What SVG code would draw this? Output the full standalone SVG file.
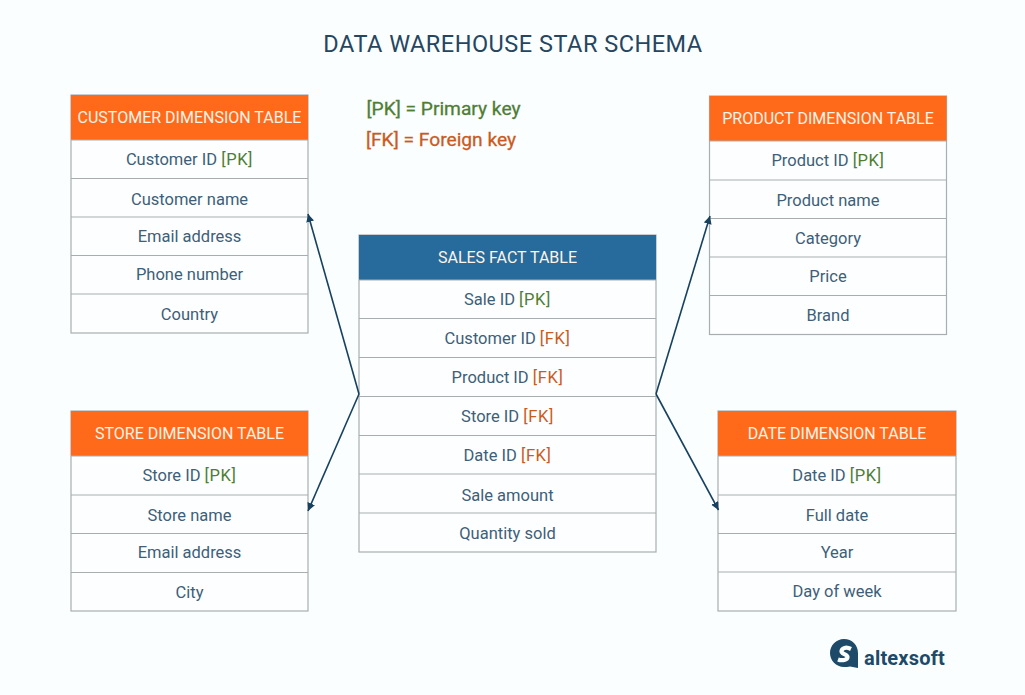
<svg xmlns="http://www.w3.org/2000/svg" width="1025" height="695" viewBox="0 0 1025 695">
<style>
text{font-family:Roboto,"Liberation Sans",sans-serif;text-anchor:middle}
.t{font-size:16.5px;fill:#3f5f78}
.h{font-size:16px;fill:#fff3e8}
.pk{fill:#4f7d33;letter-spacing:.6px}
.fk{fill:#cc5a1c;letter-spacing:.6px}
.box{fill:#fcfeff;stroke:#a8adb0;stroke-width:1.2}
.ln{stroke:#a8adb0;stroke-width:1.2}
.or{fill:#ff6a1a}
.bl{fill:#266b9c}
.c{stroke:#17415f;stroke-width:1.6;fill:none;marker-end:url(#a)}
.lg{font-size:19.2px;stroke-width:.3}
</style>
<defs><marker id="a" markerUnits="userSpaceOnUse" markerWidth="10" markerHeight="10" refX="8" refY="4" orient="auto"><path d="M0 0L8 4L0 8Z" fill="#17415f"/></marker></defs>
<rect width="1025" height="695" fill="#fbfeff"/>
<text x="513" y="52" font-size="23.500" fill="#26465f" letter-spacing=".5">DATA WAREHOUSE STAR SCHEMA</text>
<g id="legend">
<text class="lg" x="443.500" y="115" fill="#4f7d33" stroke="#4f7d33">[PK] = Primary key</text>
<text class="lg" x="441" y="146" fill="#cc5a1c" stroke="#cc5a1c">[FK] = Foreign key</text>
</g>
<g id="customer">
<rect class="box" x="71" y="95" width="237" height="238"/>
<rect class="or" x="71" y="95" width="237" height="45"/>
<path class="ln" d="M71 140H308M71 178.500H308M71 217H308M71 255.500H308M71 294H308"/>
<text class="h" x="189.500" y="123">CUSTOMER DIMENSION TABLE</text>
<text class="t" x="189.500" y="165">Customer ID <tspan class="pk">[PK]</tspan></text>
<text class="t" x="189.500" y="204.500">Customer name</text>
<text class="t" x="189.500" y="242">Email address</text>
<text class="t" x="189.500" y="280">Phone number</text>
<text class="t" x="189.500" y="319.500">Country</text>
</g>
<g id="store">
<rect class="box" x="71" y="411" width="237" height="200"/>
<rect class="or" x="71" y="411" width="237" height="45"/>
<path class="ln" d="M71 456H308M71 495H308M71 533.500H308M71 572.500H308"/>
<text class="h" x="189.500" y="439">STORE DIMENSION TABLE</text>
<text class="t" x="189.500" y="481">Store ID <tspan class="pk">[PK]</tspan></text>
<text class="t" x="189.500" y="520.500">Store name</text>
<text class="t" x="189.500" y="558">Email address</text>
<text class="t" x="189.500" y="597.500">City</text>
</g>
<g id="sales">
<rect class="box" x="359" y="235" width="297" height="317"/>
<rect class="bl" x="359" y="235" width="297" height="45"/>
<path class="ln" d="M359 280H656M359 318.500H656M359 357.500H656M359 396.500H656M359 435.500H656M359 474H656M359 513H656"/>
<text class="h" x="507.500" y="263">SALES FACT TABLE</text>
<text class="t" x="507.500" y="305">Sale ID <tspan class="pk">[PK]</tspan></text>
<text class="t" x="507.500" y="344">Customer ID <tspan class="fk">[FK]</tspan></text>
<text class="t" x="507.500" y="383">Product ID <tspan class="fk">[FK]</tspan></text>
<text class="t" x="507.500" y="421.500">Store ID <tspan class="fk">[FK]</tspan></text>
<text class="t" x="507.500" y="461">Date ID <tspan class="fk">[FK]</tspan></text>
<text class="t" x="507.500" y="500.500">Sale amount</text>
<text class="t" x="507.500" y="539">Quantity sold</text>
</g>
<g id="product">
<rect class="box" x="709.500" y="96" width="237" height="238.500"/>
<rect class="or" x="709.500" y="96" width="237" height="45"/>
<path class="ln" d="M709.500 141H946.500M709.500 180H946.500M709.500 218.500H946.500M709.500 257H946.500M709.500 295.500H946.500"/>
<text class="h" x="828" y="124">PRODUCT DIMENSION TABLE</text>
<text class="t" x="828" y="166">Product ID <tspan class="pk">[PK]</tspan></text>
<text class="t" x="828" y="206">Product name</text>
<text class="t" x="828" y="244">Category</text>
<text class="t" x="828" y="282">Price</text>
<text class="t" x="828" y="321">Brand</text>
</g>
<g id="date">
<rect class="box" x="718" y="411" width="238" height="200"/>
<rect class="or" x="718" y="411" width="238" height="45"/>
<path class="ln" d="M718 456H956M718 495H956M718 533.500H956M718 572H956"/>
<text class="h" x="837" y="439">DATE DIMENSION TABLE</text>
<text class="t" x="837" y="481">Date ID <tspan class="pk">[PK]</tspan></text>
<text class="t" x="837" y="520.500">Full date</text>
<text class="t" x="837" y="558">Year</text>
<text class="t" x="837" y="597">Day of week</text>
</g>
<g id="connectors">
<path class="c" d="M359 394L308 214"/>
<path class="c" d="M359 394L308 511"/>
<path class="c" d="M656 394L710 216"/>
<path class="c" d="M656 394L718.500 510"/>
</g>
<g id="logo">
<path fill="#1d4a68" d="M844 639C852 639 858 645 858 653V668L850 666.500C848 667 846 667 844 667C836 667 830 660.500 830 653C830 645.500 836 639 844 639Z"/>
<path fill="none" stroke="#fbfeff" stroke-width="4.200" d="M851 649C846 646.500 842 648 841.500 651C841 654 847.500 654 847.500 657C847.500 660 842 661 838 659.500"/>
<text x="904.500" y="665" font-size="20" font-weight="700" fill="#1d4a68" letter-spacing=".2">altexsoft</text>
</g>
</svg>
